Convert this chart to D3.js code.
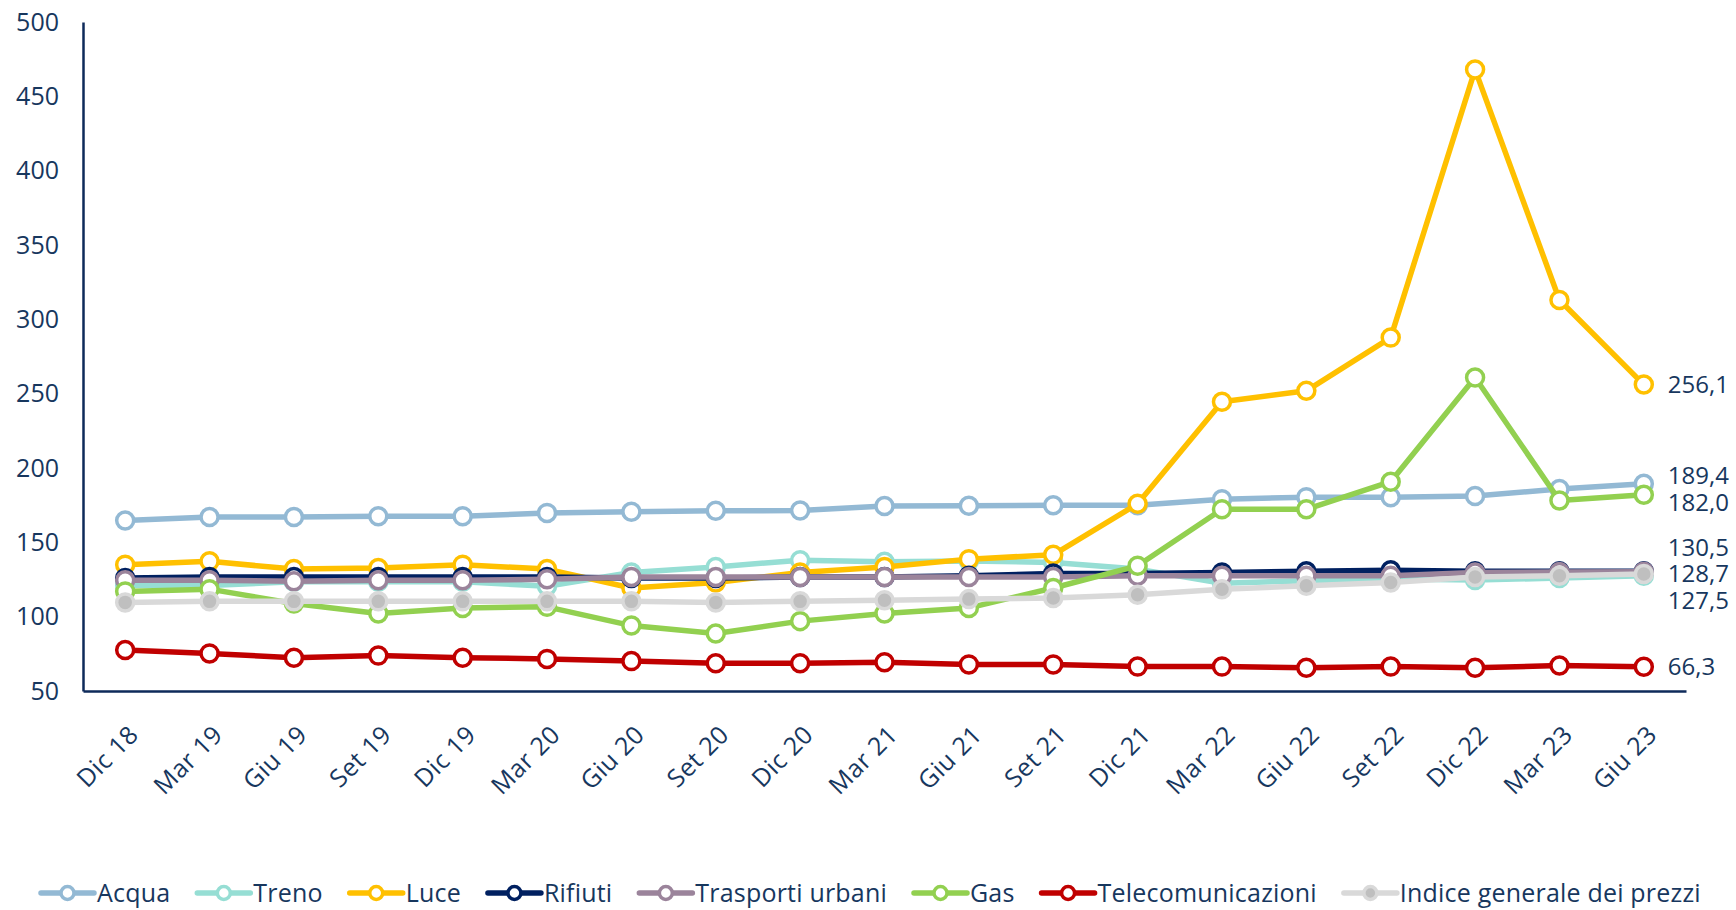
<!DOCTYPE html>
<html>
<head>
<meta charset="utf-8">
<script src="https://cdn.jsdelivr.net/npm/d3@7"></script>
<style>
  body { margin: 0; background: #fff; }
  svg { display: block; font-family: "Open Sans", sans-serif; }
</style>
</head>
<body>
<div id="chart"></div>
<script>
const periods = ["Dic 18","Mar 19","Giu 19","Set 19","Dic 19","Mar 20","Giu 20","Set 20","Dic 20",
  "Mar 21","Giu 21","Set 21","Dic 21","Mar 22","Giu 22","Set 22","Dic 22","Mar 23","Giu 23"];

const acqua = [164.7,167,167,167.5,167.5,169.8,170.6,171.2,171.4,174.4,174.6,175,175,179,180.4,180.4,181.2,185.8,189.4];
const treno = [121,121,123.5,123.5,123.5,120.5,129.7,133.4,138,137,137.5,136.4,132,122.5,124.2,125.3,124.6,126,127.5];
const luce = [135,137.2,132,132.7,135,132,119.3,123,129.7,133.4,138.7,141.6,175.9,244.5,251.9,287.7,468,313,256.1];
const rifiuti = [126,126.7,126.7,126.7,126.7,126.7,126,126,126.7,126.7,127.5,129,129,129.7,130.5,131.2,130.5,130.5,130.5];
const trasporti = [124.5,124.5,123.8,124.5,124.5,125.2,126.7,126.7,126.7,126.7,126.7,126.7,127.5,127.5,127.5,127.5,129.7,130,130.2];
const gas = [117,118.5,108.9,102.2,105.9,106.6,94,88.7,97,102.2,105.9,119.3,134.2,172.2,172.2,190.8,260.9,178.1,182];
const tele = [77.6,75.3,72.4,73.8,72.4,71.6,70.1,68.6,68.6,69.4,67.9,67.9,66.4,66.4,65.6,66.4,65.6,67.1,66.3];
const indice = [109.6,110.3,110.3,110.3,110.3,110.3,110.3,109.6,110.3,111,111.8,112.6,114.8,118.5,120.8,123,126.7,127.5,128.7];

const seriesNames = ["Acqua","Treno","Luce","Rifiuti","Trasporti urbani","Gas","Telecomunicazioni","Indice generale dei prezzi"];
const seriesValues = [acqua, treno, luce, rifiuti, trasporti, gas, tele, indice];
const seriesColors = ["#93B9D4","#96DED4","#FFC000","#002060","#9B849B","#92D050","#C00000","#D9D9D9"];
const markerFills = ["#fff","#fff","#fff","#fff","#fff","#fff","#fff","#BFBFBF"];
// which series get a value label at the last point
const endLabelSeries = ["Luce","Acqua","Gas","Rifiuti","Indice generale dei prezzi","Treno","Telecomunicazioni"];

const yTicks = [50,100,150,200,250,300,350,400,450,500];

const W = 1736, H = 910;
const mLeft = 83, mRight = 1686, mTop = 22, mBottom = 691;
const textColor = "#17375E";
const axisColor = "#0E2A5A";

const svg = d3.select("#chart").append("svg").attr("width", W).attr("height", H);

const x = d3.scalePoint().domain(periods).range([mLeft, mRight]).padding(0.5);
const y = d3.scaleLinear().domain([50, 500]).range([mBottom, mTop]);

// y axis
const yAxis = svg.append("g")
    .attr("transform", `translate(${mLeft},0)`)
    .call(d3.axisLeft(y).tickValues(yTicks).tickSize(0).tickPadding(24));
yAxis.select(".domain").attr("stroke", axisColor).attr("stroke-width", 2.5);
yAxis.selectAll("text").attr("fill", textColor).attr("font-size", 25)
    .attr("font-family", "Open Sans");

// x axis
const xAxis = svg.append("g")
    .attr("transform", `translate(0,${mBottom})`)
    .call(d3.axisBottom(x).tickSize(0).tickSizeOuter(0));
xAxis.select(".domain").attr("stroke", axisColor).attr("stroke-width", 2.5);
xAxis.selectAll("text")
    .attr("fill", textColor).attr("font-size", 25).attr("font-family", "Open Sans")
    .attr("letter-spacing", 0.5)
    .attr("text-anchor", "end")
    .attr("y", null)
    .attr("transform", "translate(8,39) rotate(-45)")
    .attr("dy", "0.35em");

// series
const line = d3.line().x((d, i) => x(periods[i])).y(d => y(d));

seriesNames.forEach((name, s) => {
  const g = svg.append("g");
  g.append("path")
    .datum(seriesValues[s])
    .attr("fill", "none")
    .attr("stroke", seriesColors[s])
    .attr("stroke-width", 5.5)
    .attr("stroke-linejoin", "round")
    .attr("d", line);
  g.selectAll("circle")
    .data(seriesValues[s])
    .join("circle")
    .attr("cx", (d, i) => x(periods[i]))
    .attr("cy", d => y(d))
    .attr("r", 8.5)
    .attr("fill", markerFills[s])
    .attr("stroke", seriesColors[s])
    .attr("stroke-width", 3.5);
});

// end labels with simple spreading so they don't overlap
const last = periods[periods.length - 1];
const labels = endLabelSeries.map(n => {
  const v = seriesValues[seriesNames.indexOf(n)];
  const val = v[v.length - 1];
  return { val, y: y(val) };
}).sort((a, b) => a.y - b.y);

const gap = 26.5;
for (let iter = 0; iter < 200; iter++) {
  let moved = false;
  for (let i = 1; i < labels.length; i++) {
    const d = labels[i].y - labels[i - 1].y;
    if (d < gap - 0.01) {
      const push = (gap - d) / 2;
      labels[i - 1].y -= push;
      labels[i].y += push;
      moved = true;
    }
  }
  if (!moved) break;
}

svg.append("g").selectAll("text")
  .data(labels)
  .join("text")
  .attr("x", x(last) + 24)
  .attr("y", d => d.y)
  .attr("dy", "0.35em")
  .attr("fill", textColor)
  .attr("font-size", 24)
  .text(d => d3.format(".1f")(d.val).replace(".", ","));

// legend
const legend = svg.append("g").attr("transform", `translate(41,893)`);
let lx = 0;
seriesNames.forEach((name, s) => {
  const item = legend.append("g").attr("transform", `translate(${lx},0)`);
  item.append("line").attr("x1", 0).attr("x2", 53).attr("y1", 0).attr("y2", 0)
    .attr("stroke", seriesColors[s]).attr("stroke-width", 5.5).attr("stroke-linecap", "round");
  item.append("circle").attr("cx", 26.5).attr("cy", 0).attr("r", 6.5)
    .attr("fill", markerFills[s]).attr("stroke", seriesColors[s]).attr("stroke-width", 3.5);
  const t = item.append("text").attr("x", 56).attr("y", 0).attr("dy", "0.35em")
    .attr("fill", textColor).attr("font-size", 25).attr("letter-spacing", 0.2).text(name);
  lx += 56 + t.node().getComputedTextLength() + 27;
});
</script>
</body>
</html>
